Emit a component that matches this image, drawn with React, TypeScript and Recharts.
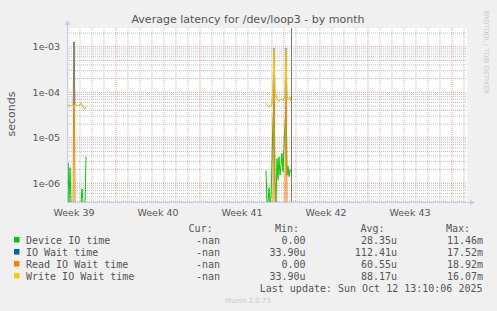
import React from 'react';
import { ComposedChart, Line, XAxis, YAxis, CartesianGrid, ReferenceLine } from 'recharts';

// ---- data (x = hours from start of the month view; 1 sample = 2 h) ----
const leftHours = [-2, 0, 2, 4, 6, 8, 10, 12, 14, 16, 18, 20, 22, 24, 26, 28, 30, 32, 34, 36];
const leftDevice = [0, 2.8e-6, 0, 2.2e-6, 0, 0, 0, 0, 0, 0, 0, 0, 0, 0, 0, 7.5e-7, 0, 0, 0, 3.85e-6];
const leftIoWait = [5.9e-5, 5.3e-5, 5.0e-5, 5.1e-5, 5.2e-5, 5.1e-5, 5.2e-5, 1.3e-3, 5.1e-5, 5.2e-5, 5.1e-5, 5.2e-5, 5.1e-5, 5.3e-5, 5.8e-5, 5.4e-5, 4.8e-5, 4.4e-5, 4.3e-5, 4.9e-5];
const leftRead = [0, 0, 0, 0, 0, 0, 0, 1.26e-3, 0, 0, 0, 0, 0, 0, 0, 0, 0, 0, 0, 0];
const leftWrite = [5.9e-5, 5.3e-5, 5.0e-5, 5.1e-5, 5.2e-5, 5.1e-5, 5.2e-5, 5.0e-5, 5.1e-5, 5.2e-5, 5.1e-5, 5.2e-5, 5.1e-5, 5.3e-5, 5.8e-5, 5.4e-5, 4.8e-5, 4.4e-5, 4.3e-5, 4.9e-5];

const rightHours = [396, 398, 400, 402, 404, 406, 408, 410, 412, 414, 416, 418, 420, 422, 424, 426, 428, 430, 432, 434, 436, 438, 440, 442, 444, 446];
const rightDevice = [1.9e-6, 0, 0, 8e-7, 0, 5e-7, 3e-6, 2.5e-5, 6e-5, 1.0e-6, 0, 3.5e-6, 1.2e-6, 3.8e-6, 1.5e-6, 2.5e-6, 4.6e-6, 1.8e-6, 6e-6, 2.0e-5, 5e-5, 1.5e-6, 2.4e-6, 1.4e-6, 2.0e-6, 1.8e-6];
const rightIoWait = [5.7e-5, 5.3e-5, 5.0e-5, 4.8e-5, 4.9e-5, 5.0e-5, 5.6e-5, 1.2e-4, 9.5e-4, 1.0e-4, 8.7e-5, 7.1e-5, 6.6e-5, 6.4e-5, 6.8e-5, 7.1e-5, 6.7e-5, 6.9e-5, 7.3e-5, 7.9e-5, 9.5e-4, 7.9e-5, 7.0e-5, 6.8e-5, 7.8e-5, 6.4e-5];
const rightRead = [0, 0, 0, 0, 0, 0, 0, 0, 8.5e-4, 0, 0, 0, 0, 0, 0, 0, 0, 0, 0, 0, 8.5e-4, 0, 0, 0, 0, 0];
const rightWrite = [5.7e-5, 5.3e-5, 5.0e-5, 4.8e-5, 4.9e-5, 5.0e-5, 5.6e-5, 1.2e-4, 8.5e-4, 1.0e-4, 8.7e-5, 7.1e-5, 6.6e-5, 6.4e-5, 6.8e-5, 7.1e-5, 6.7e-5, 6.9e-5, 7.3e-5, 7.9e-5, 8.5e-4, 7.9e-5, 7.0e-5, 6.8e-5, 7.8e-5, 6.4e-5];

const nowHour = 447;

const weekTicks = [12, 180, 348, 516, 684];
const weekLabels = ['Week 39', 'Week 40', 'Week 41', 'Week 42', 'Week 43'];
const weekStarts = [96, 264, 432, 600, 768];

const yTicks = [1e-6, 1e-5, 1e-4, 1e-3];
const yLabels = ['1e-06', '1e-05', '1e-04', '1e-03'];

const seriesNames = ['Device IO time', 'IO Wait time', 'Read IO Wait time', 'Write IO Wait time'];
const seriesColors = ['#00cc00', '#0066b3', '#ff8000', '#ffcc00'];
const curValues = ['-nan', '-nan', '-nan', '-nan'];
const minValues = ['0.00', '33.90u', '0.00', '33.90u'];
const avgValues = ['28.35u', '112.41u', '60.55u', '88.17u'];
const maxValues = ['11.46m', '17.52m', '18.92m', '16.07m'];

// ---- build table ----
const X_MIN = -2;
const X_MAX = 798;
const Y_MIN = 3.69e-7;
const Y_MAX = 2.59e-3;

const clampLog = (v: number) => (v <= 0 ? Y_MIN : v);

type Row = { h: number; device?: number; iowait?: number; read?: number; write?: number };
const table: Row[] = [];
leftHours.forEach((h, i) =>
  table.push({ h, device: clampLog(leftDevice[i]), iowait: clampLog(leftIoWait[i]), read: clampLog(leftRead[i]), write: clampLog(leftWrite[i]) })
);
table.push({ h: 200 });
rightHours.forEach((h, i) =>
  table.push({ h, device: clampLog(rightDevice[i]), iowait: clampLog(rightIoWait[i]), read: clampLog(rightRead[i]), write: clampLog(rightWrite[i]) })
);

const minorY: number[] = [];
for (let e = -7; e <= -3; e++) {
  for (let m = 2; m <= 9; m++) {
    const v = m * Math.pow(10, e);
    if (v > Y_MIN && v < Y_MAX) minorY.push(v);
  }
}
const majorY = yTicks;
const minorX: number[] = [];
for (let d = 0; d * 24 <= X_MAX; d++) {
  const h = d * 24;
  if (!weekStarts.includes(h)) minorX.push(h);
}

const FONT = 'DejaVu Sans, sans-serif';
const MONO = 'DejaVu Sans Mono, monospace';
const TXT = '#555555';

export default function App() {
  const rowY = (i: number) => 243.5 + i * 12;
  return (
    <div style={{ position: 'absolute', left: 0, top: 0, width: 497, height: 311, background: '#f0f0f0', overflow: 'hidden' }}>
      <ComposedChart
        width={497}
        height={311}
        data={table}
        margin={{ top: 28, right: 30, bottom: 78, left: 7 }}
      >
        <CartesianGrid
          fill="#ffffff"
          stroke="#bdbdbd"
          strokeDasharray="1 1"
          horizontalValues={minorY}
          verticalValues={minorX}
        />
        <CartesianGrid
          fill="none"
          stroke="#f09a9a"
          strokeDasharray="1 1"
          horizontalValues={majorY}
          verticalValues={weekStarts}
        />
        <XAxis
          dataKey="h"
          type="number"
          domain={[X_MIN, X_MAX]}
          allowDataOverflow
          ticks={weekTicks}
          interval={0}
          tickFormatter={(v: number) => weekLabels[weekTicks.indexOf(v)] ?? ''}
          axisLine={false}
          tickLine={false}
          tickSize={0}
          tickMargin={6}
          height={30}
          tick={{ fill: TXT, fontSize: 9.5, fontFamily: FONT }}
        />
        <YAxis
          type="number"
          scale="log"
          domain={[Y_MIN, Y_MAX]}
          allowDataOverflow
          ticks={yTicks}
          interval={0}
          tickFormatter={(v: number) => yLabels[yTicks.indexOf(v)] ?? ''}
          axisLine={false}
          tickLine={false}
          tickSize={2}
          tickMargin={5}
          width={60}
          tick={{ fill: TXT, fontSize: 9.5, fontFamily: FONT }}
        />
        <ReferenceLine x={nowHour} stroke="#777777" strokeWidth={1} />
        <Line type="linear" dataKey="device" stroke={seriesColors[0]} strokeWidth={1} dot={false} isAnimationActive={false} connectNulls={false} />
        <Line type="linear" dataKey="read" stroke={seriesColors[2]} strokeWidth={1} dot={false} isAnimationActive={false} connectNulls={false} />
        <Line type="linear" dataKey="iowait" stroke={seriesColors[1]} strokeOpacity={0.5} strokeWidth={1} dot={false} isAnimationActive={false} connectNulls={false} />
        <Line type="linear" dataKey="write" stroke={seriesColors[3]} strokeWidth={1} dot={false} isAnimationActive={false} connectNulls={false} />
      </ComposedChart>
      <svg width={497} height={311} style={{ position: 'absolute', left: 0, top: 0, pointerEvents: 'none' }}>
        {/* axes with arrows */}
        <line x1={67.5} y1={203} x2={67.5} y2={23} stroke="#c4ccf0" strokeWidth={1} />
        <polygon points="64.5,25 70.5,25 67.5,20" fill="#c4ccf0" />
        <line x1={67} y1={202.5} x2={472} y2={202.5} stroke="#c4ccf0" strokeWidth={1} />
        <polygon points="470,199.5 470,205.5 475,202.5" fill="#c4ccf0" />

        <text x={248} y={23} textAnchor="middle" fontFamily={FONT} fontSize={11} fill={TXT}>
          Average latency for /dev/loop3 - by month
        </text>
        <text x={15} y={114} textAnchor="middle" fontFamily={FONT} fontSize={11} fill={TXT} transform="rotate(-90 15 114)">
          seconds
        </text>
        <text x={484} y={52} textAnchor="middle" fontFamily={FONT} fontSize={6.5} fill="#c8c8c8" transform="rotate(90 484 52)">
          RRDTOOL / TOBI OETIKER
        </text>

        {/* legend header */}
        <g fontFamily={MONO} fontSize={10} fill={TXT}>
          <text x={212.7} y={231.5} textAnchor="end">Cur:</text>
          <text x={299} y={231.5} textAnchor="end">Min:</text>
          <text x={384.5} y={231.5} textAnchor="end">Avg:</text>
          <text x={470} y={231.5} textAnchor="end">Max:</text>
          {seriesNames.map((n, i) => (
            <g key={n}>
              <rect x={14} y={rowY(i) - 6.5} width={5.5} height={5.5} fill={seriesColors[i]} />
              <text x={26} y={rowY(i)}>{n}</text>
              <text x={220} y={rowY(i)} textAnchor="end">{curValues[i]}</text>
              <text x={305.5} y={rowY(i)} textAnchor="end">{minValues[i]}</text>
              <text x={397} y={rowY(i)} textAnchor="end">{avgValues[i]}</text>
              <text x={483} y={rowY(i)} textAnchor="end">{maxValues[i]}</text>
            </g>
          ))}
          <text x={482.5} y={rowY(4)} textAnchor="end">Last update: Sun Oct 12 13:10:06 2025</text>
        </g>
        <text x={248} y={303} textAnchor="middle" fontFamily={FONT} fontSize={7} fill="#c8c8c8">
          Munin 2.0.73
        </text>
      </svg>
    </div>
  );
}
